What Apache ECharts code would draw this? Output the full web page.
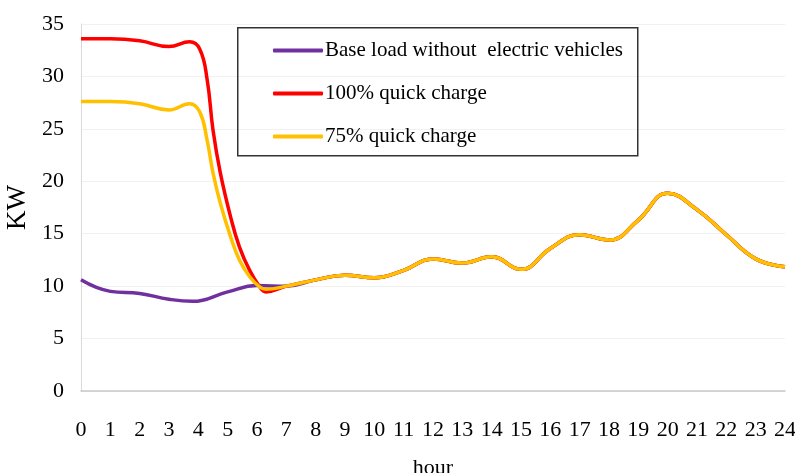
<!DOCTYPE html>
<html>
<head>
<meta charset="utf-8">
<script src="https://cdn.jsdelivr.net/npm/echarts@6/dist/echarts.min.js"></script>
<style>
html,body{margin:0;padding:0;background:#fff;}
#chart{width:795px;height:473px;}
</style>
</head>
<body>
<div id="chart"></div>
<script>
// Data
var seriesNames = ['Base load without  electric vehicles', '100% quick charge', '75% quick charge'];
var yTicks = [0, 5, 10, 15, 20, 25, 30, 35];
var xTicks = [0,1,2,3,4,5,6,7,8,9,10,11,12,13,14,15,16,17,18,19,20,21,22,23,24];

var hoursBase = [0,1,2,3,3.8,5,6,7,8,9,10,11,12,13,14,15,16,17,18,19,20,21,22,23,24];
var baseLoad  = [10.6,9.5,9.3,8.75,8.55,9.45,10.05,10.0,10.6,11.05,10.8,11.5,12.6,12.2,12.8,11.6,13.6,14.9,14.4,16.3,18.85,17.3,14.9,12.6,11.85];

var hoursEV = [0,1,2,3,3.7,4.05,4.3,4.5,4.75,5.1,5.4,5.75,6.1,6.3,7,8,9,10,11,12,13,14,15,16,17,18,19,20,21,22,23,24];
var quick100 = [33.6,33.6,33.4,32.85,33.3,32.6,29.7,24.9,20.8,16.6,13.75,11.5,9.9,9.45,10.0,10.6,11.05,10.8,11.5,12.6,12.2,12.8,11.6,13.6,14.9,14.4,16.3,18.85,17.3,14.9,12.6,11.85];
var quick75  = [27.6,27.6,27.4,26.8,27.4,26.6,23.9,20.8,17.9,14.7,12.5,10.9,9.9,9.7,10.0,10.6,11.05,10.8,11.5,12.6,12.2,12.8,11.6,13.6,14.9,14.4,16.3,18.85,17.3,14.9,12.6,11.85];

function pairs(xs, ys){ return xs.map(function(x,i){ return [x, ys[i]]; }); }

var FONT = 'Liberation Serif';
var chart = echarts.init(document.getElementById('chart'), null, {renderer:'canvas'});
chart.setOption({
  animation: false,
  backgroundColor: '#fff',
  textStyle: {fontFamily: FONT, color: '#000'},
  grid: {left: 81, right: 10, top: 24, bottom: 82, containLabel: false, outerBoundsMode: 'none'},
  graphic: [{
    type: 'rect', left: 237, top: 27, z: 100,
    shape: {width: 400, height: 128},
    style: {fill: 'rgba(0,0,0,0)', stroke: '#333', lineWidth: 1.5}
  }],
  legend: {
    orient: 'vertical', left: 268, top: 35, itemGap: 22,
    itemWidth: 50, itemHeight: 4, icon: 'roundRect',
    textStyle: {fontFamily: FONT, fontSize: 21, color: '#000', padding: [0,0,0,-3]},
    data: seriesNames
  },
  xAxis: {
    type: 'value', min: 0, max: 24, interval: 1,
    name: 'hour', nameLocation: 'middle', nameGap: 66,
    nameTextStyle: {fontFamily: FONT, fontSize: 22, color: '#000'},
    axisLine: {show: true, lineStyle: {color: '#c8c8c8', width: 1.5}},
    axisTick: {show: false},
    splitLine: {show: false},
    axisLabel: {fontFamily: FONT, fontSize: 22, color: '#000', margin: 28,
      formatter: function(v){ return xTicks.indexOf(v) >= 0 ? String(v) : ''; }}
  },
  yAxis: {
    type: 'value', min: 0, max: 35, interval: 5,
    name: 'KW', nameLocation: 'middle', nameGap: 46, nameRotate: 90,
    nameTextStyle: {fontFamily: FONT, fontSize: 27, color: '#000'},
    axisLine: {show: true, lineStyle: {color: '#d9d9d9', width: 1}},
    axisTick: {show: false},
    splitLine: {show: true, lineStyle: {color: '#f1f1ee', width: 1}},
    axisLabel: {fontFamily: FONT, fontSize: 22, color: '#000', margin: 17,
      formatter: function(v){ return yTicks.indexOf(v) >= 0 ? String(v) : ''; }}
  },
  series: [
    {name: seriesNames[0], type: 'line', smooth: 0.45, showSymbol: false,
     lineStyle: {color: '#7030A0', width: 3.5}, itemStyle: {color: '#7030A0'},
     data: pairs(hoursBase, baseLoad)},
    {name: seriesNames[1], type: 'line', smooth: 0.45, showSymbol: false,
     lineStyle: {color: '#FF0000', width: 3.5}, itemStyle: {color: '#FF0000'},
     data: pairs(hoursEV, quick100)},
    {name: seriesNames[2], type: 'line', smooth: 0.45, showSymbol: false,
     lineStyle: {color: '#FFC000', width: 3.5}, itemStyle: {color: '#FFC000'},
     data: pairs(hoursEV, quick75)}
  ]
});
</script>
</body>
</html>
